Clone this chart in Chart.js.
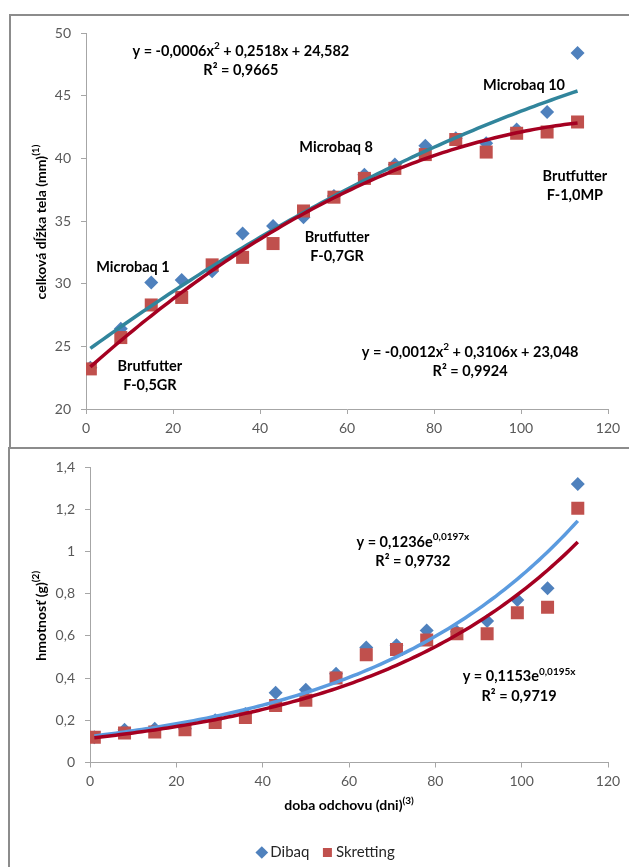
<!DOCTYPE html>
<html><head><meta charset="utf-8">
<script src="https://cdn.jsdelivr.net/npm/chart.js@4.4.1/dist/chart.umd.min.js"></script>
<style>
html,body{margin:0;padding:0;background:#fff;overflow:hidden;width:629px;height:867px;}
.box{position:absolute;border-top:2px solid #8c8c8c;border-left:2px solid #8c8c8c;}
#b1{left:9px;top:14px;width:700px;height:433px;}
#b2{left:8px;top:447px;width:700px;height:500px;}
canvas{position:absolute;}
#c1{left:0;top:0;}
#c2{left:0;top:448px;}
</style></head><body>
<div class="box" id="b1"></div><div class="box" id="b2"></div>
<canvas id="c1" width="629" height="448"></canvas>
<canvas id="c2" width="629" height="422"></canvas>
<script>
// ---------- data ----------
const days = [1, 8, 15, 22, 29, 36, 43, 50, 57, 64, 71, 78, 85, 92, 99, 106, 113];
const dibaqLength     = [23.3, 26.4, 30.1, 30.3, 31.0, 34.0, 34.6, 35.3, 37.0, 38.7, 39.5, 41.0, 41.6, 41.2, 42.3, 43.7, 48.4];
const skrettingLength = [23.2, 25.7, 28.3, 28.9, 31.5, 32.1, 33.2, 35.8, 36.9, 38.4, 39.2, 40.3, 41.5, 40.5, 42.0, 42.1, 42.9];
const dibaqWeight     = [0.12, 0.155, 0.16, 0.16, 0.20, 0.23, 0.33, 0.345, 0.42, 0.545, 0.555, 0.625, 0.62, 0.67, 0.77, 0.825, 1.32];
const skrettingWeight = [0.12, 0.14, 0.145, 0.155, 0.19, 0.213, 0.27, 0.295, 0.40, 0.51, 0.535, 0.58, 0.61, 0.61, 0.71, 0.735, 1.205];
const seriesNames = ['Dibaq', 'Skretting'];
// trendline coefficients as printed on the chart
const dibaqLengthQuad     = [-0.0006, 0.2518, 24.582];
const skrettingLengthQuad = [-0.0012, 0.3106, 23.048];
const dibaqWeightExp      = [0.1236, 0.0197];
const skrettingWeightExp  = [0.1153, 0.0195];
const trendRange = [1, 113];
const lengthTicks = [20, 50, 5];
const weightTicks = [0, 1.4, 0.2];
const dayTicks = [0, 120, 20];

// ---------- helpers ----------
const FONT = 'Lato, "Open Sans", sans-serif';
const pts = (xs, ys) => xs.map((x, i) => ({x, y: ys[i]}));
const trendXs = []; for (let d = trendRange[0]; d <= trendRange[1]; d++) trendXs.push(d);
const quadTrend = c => trendXs.map(x => ({x, y: c[0]*x*x + c[1]*x + c[2]}));
const expTrend = c => trendXs.map(x => ({x, y: c[0]*Math.exp(c[1]*x)}));
const fmt = v => String(+(+v).toFixed(1)).replace('.', ',');

function drawRich(ctx, segs, cx, cy, size) {
  const f = 'bold ' + size + 'px ' + FONT, fs = 'bold ' + Math.round(size*0.68) + 'px ' + FONT;
  let w = 0;
  segs.forEach(s => { ctx.font = s.sup ? fs : f; w += ctx.measureText(s.t).width; });
  let x = cx - w/2;
  ctx.textAlign = 'left'; ctx.textBaseline = 'middle'; ctx.fillStyle = '#000';
  segs.forEach(s => { ctx.font = s.sup ? fs : f; ctx.fillText(s.t, x, s.sup ? cy - size*0.35 : cy); x += ctx.measureText(s.t).width; });
}

const textPlugin = {
  id: 'texts',
  afterDatasetsDraw(chart, args, opts) {
    const ctx = chart.ctx, xs = chart.scales.x, ys = chart.scales.y, ca = chart.chartArea;
    ctx.save();
    (opts.notes || []).forEach(n => {
      const px = xs.getPixelForValue(n.x), py = ys.getPixelForValue(n.y);
      n.lines.forEach((ln, i) => drawRich(ctx, ln, px, py + i*19.5, 14.5));
    });
    if (opts.yTitle) {
      ctx.save(); ctx.translate(41, (ca.top + ca.bottom)/2 + 1); ctx.rotate(-Math.PI/2);
      drawRich(ctx, opts.yTitle, 0, 0, 14); ctx.restore();
    }
    if (opts.xTitle) drawRich(ctx, opts.xTitle, (ca.left + ca.right)/2, ca.bottom + 43, 14);
    ctx.restore();
  }
};

function axis(r, isX, size) {
  return {
    type: 'linear', min: r[0], max: r[1],
    ticks: {stepSize: r[2], color: '#595959', font: {family: FONT, size: 14}, padding: isX ? 6 : 10, callback: fmt},
    grid: {drawOnChartArea: false, drawTicks: true, tickLength: 5, tickColor: '#a6a6a6'},
    border: {color: '#a6a6a6', width: 1},
    afterFit: s => { if (isX) s.height = size; else s.width = size; }
  };
}

function markerSets(a, b) {
  return [
    {label: seriesNames[0], data: pts(days, a), pointStyle: 'rectRot', pointRadius: 7, pointHoverRadius: 7,
     backgroundColor: '#4F81BD', borderColor: '#4F81BD', borderWidth: 0, pointBorderWidth: 0, showLine: false, order: 4},
    {label: seriesNames[1], data: pts(days, b), pointStyle: 'rect', pointRadius: 9.2, pointHoverRadius: 9.2,
     backgroundColor: '#C0504D', borderColor: '#C0504D', borderWidth: 0, pointBorderWidth: 0, showLine: false, order: 3}
  ];
}
function trendSet(data, color) {
  return {label: 'trend', data, showLine: true, pointRadius: 0, borderColor: color, backgroundColor: color,
          borderWidth: 3.5, tension: 0, order: 1};
}

// ---------- top chart ----------
new Chart(document.getElementById('c1'), {
  type: 'scatter',
  data: {datasets: [
    ...markerSets(dibaqLength, skrettingLength),
    Object.assign(trendSet(quadTrend(dibaqLengthQuad), '#31859C'), {order: 2}),
    trendSet(quadTrend(skrettingLengthQuad), '#A50021')
  ]},
  options: {
    responsive: false, animation: false, devicePixelRatio: 1,
    layout: {padding: {top: 33, right: 21, bottom: 9, left: 0}},
    scales: {x: axis(dayTicks, true, 30), y: axis(lengthTicks, false, 86)},
    plugins: {
      legend: {display: false}, tooltip: {enabled: false},
      texts: {
        yTitle: [{t: 'celková dĺžka tela (mm)'}, {t: '(1)', sup: true}],
        notes: [
          {x: 35.6, y: 48.55, lines: [[{t: 'y = -0,0006x'}, {t: '2', sup: true}, {t: ' + 0,2518x + 24,582'}], [{t: 'R² = 0,9665'}]]},
          {x: 10.8, y: 31.33, lines: [[{t: 'Microbaq 1'}]]},
          {x: 14.7, y: 23.43, lines: [[{t: 'Brutfutter'}], [{t: 'F-0,5GR'}]]},
          {x: 57.5, y: 40.85, lines: [[{t: 'Microbaq 8'}]]},
          {x: 57.7, y: 33.73, lines: [[{t: 'Brutfutter'}], [{t: 'F-0,7GR'}]]},
          {x: 100.7, y: 45.86, lines: [[{t: 'Microbaq 10'}]]},
          {x: 112.4, y: 38.6, lines: [[{t: 'Brutfutter'}], [{t: 'F-1,0MP'}]]},
          {x: 88.3, y: 24.55, lines: [[{t: 'y = -0,0012x'}, {t: '2', sup: true}, {t: ' + 0,3106x + 23,048'}], [{t: 'R² = 0,9924'}]]}
        ]
      }
    }
  },
  plugins: [textPlugin]
});

// ---------- bottom chart ----------
new Chart(document.getElementById('c2'), {
  type: 'scatter',
  data: {datasets: [
    ...markerSets(dibaqWeight, skrettingWeight),
    Object.assign(trendSet(expTrend(dibaqWeightExp), '#5B9BDF'), {order: 2}),
    trendSet(expTrend(skrettingWeightExp), '#A50021')
  ]},
  options: {
    responsive: false, animation: false, devicePixelRatio: 1,
    layout: {padding: {top: 19, right: 21, bottom: 0, left: 47.5}},
    scales: {x: axis(dayTicks, true, 65.5), y: axis(weightTicks, false, 42.5)},
    plugins: {
      tooltip: {enabled: false},
      legend: {
        position: 'bottom',
        labels: {
          usePointStyle: true, boxWidth: 2, boxHeight: 9, padding: 17,
          color: '#262626', font: {family: FONT, size: 15},
          filter: item => item.text !== 'trend',
          sort: (a, b) => a.datasetIndex - b.datasetIndex
        }
      },
      texts: {
        yTitle: [{t: 'hmotnosť (g)'}, {t: '(2)', sup: true}],
        xTitle: [{t: 'doba odchovu (dni)'}, {t: '(3)', sup: true}],
        notes: [
          {x: 74.8, y: 1.044, lines: [[{t: 'y = 0,1236e'}, {t: '0,0197x', sup: true}], [{t: 'R² = 0,9732'}]]},
          {x: 99.4, y: 0.408, lines: [[{t: 'y = 0,1153e'}, {t: '0,0195x', sup: true}], [{t: 'R² = 0,9719'}]]}
        ]
      }
    }
  },
  plugins: [textPlugin]
});
</script>
</body></html>
